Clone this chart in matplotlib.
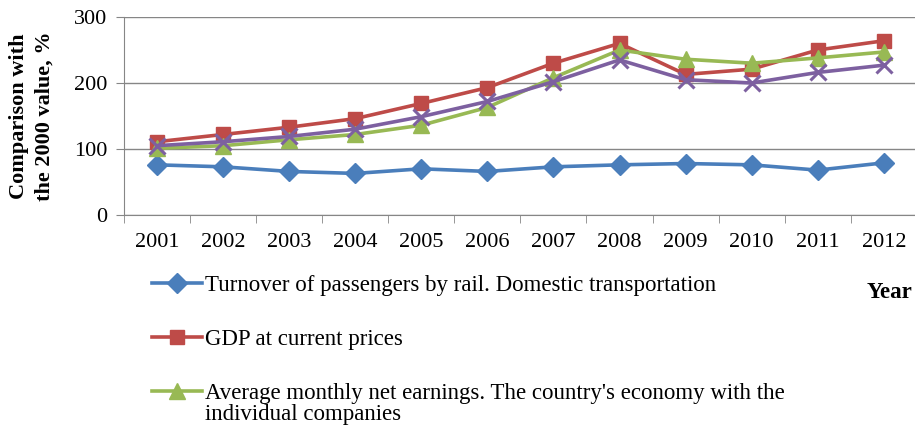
import matplotlib.pyplot as plt
from matplotlib.ticker import FixedLocator

plt.rcParams["font.family"] = ["Liberation Serif", "DejaVu Serif"]

years = ["2001", "2002", "2003", "2004", "2005", "2006",
         "2007", "2008", "2009", "2010", "2011", "2012"]

rail = [76, 73, 66, 63, 70, 66, 73, 76, 78, 76, 68, 79]
gdp = [111, 122, 133, 146, 169, 193, 230, 260, 213, 221, 250, 264]
earnings = [101, 105, 114, 122, 136, 163, 208, 250, 236, 230, 238, 247]
fourth = [105, 111, 119, 130, 149, 172, 202, 235, 205, 200, 216, 227]

labels = [
    "Turnover of passengers by rail. Domestic transportation",
    "GDP at current prices",
    "Average monthly net earnings. The country's economy with the\nindividual companies",
]

colors = {
    "rail": "#4A7EBB",
    "gdp": "#BE4B48",
    "earn": "#98B954",
    "fourth": "#7D60A0",
}

fig = plt.figure(figsize=(9.15, 4.26), dpi=100)
ax = fig.add_axes([124 / 915, 1 - 215 / 426, 1 - 124 / 915 + 0.002, 198 / 426])

x = list(range(1, len(years) + 1))

h1, = ax.plot(x, rail, color=colors["rail"], lw=2.6, marker="D", ms=10, label=labels[0])
h2, = ax.plot(x, gdp, color=colors["gdp"], lw=2.6, marker="s", ms=10.5, label=labels[1])
h3, = ax.plot(x, earnings, color=colors["earn"], lw=2.6, marker="^", ms=12, label=labels[2])
ax.plot(x, fourth, color=colors["fourth"], lw=2.6, marker="x", ms=12, mew=2.2)

ax.set_xlim(0.5, 12.5)
ax.set_ylim(0, 300)
ax.set_yticks([0, 100, 200, 300])
ax.set_xticks(x)
ax.set_xticklabels(years)
ax.xaxis.set_minor_locator(FixedLocator([i + 0.5 for i in range(0, 13)]))
ax.tick_params(axis="x", which="major", length=0, pad=13, labelsize=16)
ax.tick_params(axis="x", which="minor", length=6, color="#868686", direction="out")
ax.tick_params(axis="y", length=6, color="#868686", pad=6, labelsize=16)

ax.grid(axis="y", color="#868686", lw=1)
ax.set_axisbelow(True)
for side in ["top", "right"]:
    ax.spines[side].set_visible(False)
for side in ["left", "bottom"]:
    ax.spines[side].set_color("#868686")

ax.set_ylabel("Comparison with\nthe 2000 value, %", fontsize=16, fontweight="bold",
              linespacing=1.35, labelpad=14)

fig.text(0.997, 1 - 292 / 426, "Year", ha="right", va="center",
         fontsize=16.5, fontweight="bold")

leg = ax.legend(handles=[h1, h2, h3], loc="upper left",
                bbox_to_anchor=(152 / 915, 1 - 275 / 426), bbox_transform=fig.transFigure,
                frameon=False, fontsize=16.5, handlelength=2.2, handletextpad=0.1,
                labelspacing=1.45, borderaxespad=0, borderpad=0)
for t in leg.get_texts():
    t.set_linespacing(1.0)
# keep the marker level with the first line of a wrapped label
for col in leg._legend_handle_box.get_children():
    for item in col.get_children():
        item.align = "top"

fig.savefig("out.png", dpi=100)
